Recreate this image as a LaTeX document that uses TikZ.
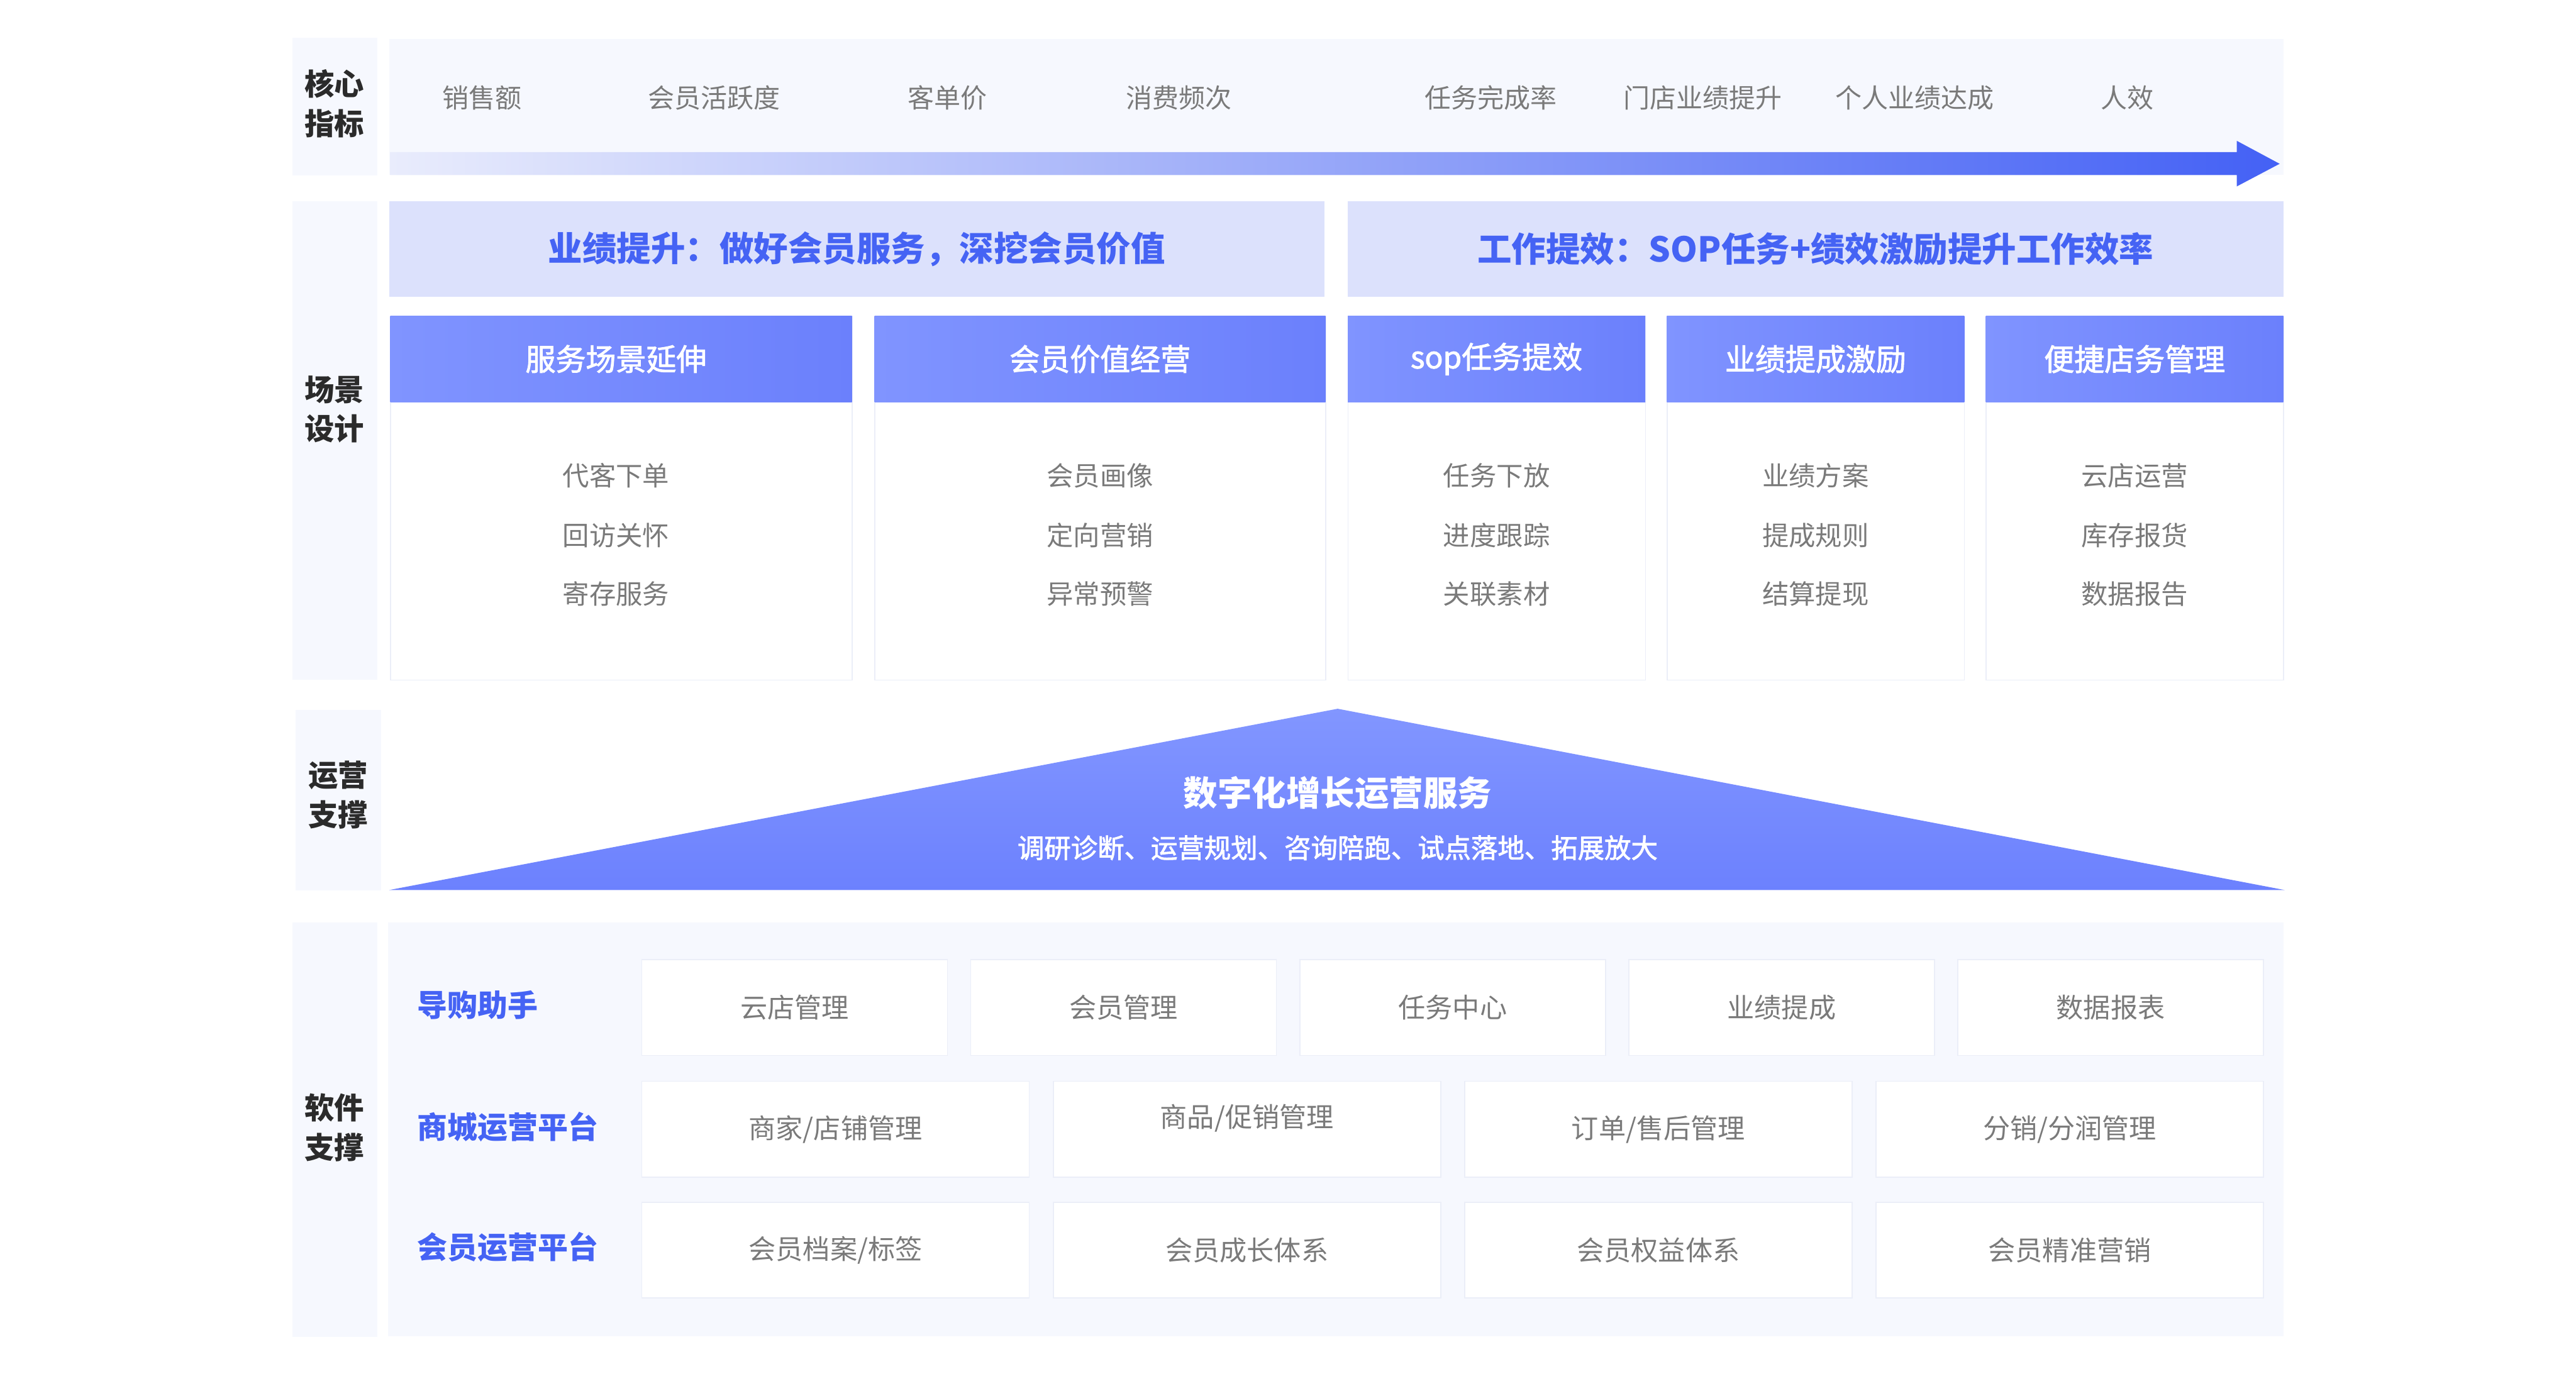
\documentclass[tikz,border=0pt]{standalone}
\usepackage{fontspec}
\usetikzlibrary{positioning}
\newfontfamily\cjk{Noto Sans CJK SC}
\newfontfamily\cjkmid[FakeBold=2]{Noto Sans CJK SC}
\definecolor{panelBg}{HTML}{F6F8FE}
\definecolor{bandBg}{HTML}{DCE1FC}
\definecolor{brandBlue}{HTML}{4563F4}
\definecolor{headL}{HTML}{8094FF}
\definecolor{headR}{HTML}{6B80FC}
\definecolor{triTop}{HTML}{8296FF}
\definecolor{triBot}{HTML}{6C81FE}
\definecolor{textGray}{HTML}{7A7A7A}
\definecolor{textDark}{HTML}{2B2B2B}
\definecolor{lineGray}{HTML}{EBEEF8}
\definecolor{arrowL}{HTML}{E9ECFC}
\definecolor{arrowM}{HTML}{A9B6FB}
\definecolor{arrowR}{HTML}{4461F5}

\begin{document}
\begin{tikzpicture}[
    node distance=0.68cm,
    panel/.style={rectangle, fill=panelBg, inner sep=0pt, anchor=north west},
    sidelabel/.style={align=center, inner sep=0pt, text=textDark,
                 font=\cjk\bfseries\fontsize{24.7pt}{32.7pt}\selectfont},
    metric/.style={inner sep=0pt, text=textGray, font=\cjk\fontsize{21.9pt}{26pt}\selectfont},
    band/.style={rectangle, fill=bandBg, inner sep=0pt, anchor=north west,
                 minimum width=27.24cm, minimum height=2.78cm, text=brandBlue,
                 font=\cjk\bfseries\fontsize{28.4pt}{34pt}\selectfont},
    colbody/.style={rectangle, draw=lineGray, line width=0.8pt, fill=white,
                 anchor=north west, minimum height=10.59cm, inner sep=0pt},
    colhead/.style={rectangle, left color=headL, right color=headR, anchor=north west,
                 minimum height=2.50cm, inner sep=0pt, text=white,
                 font=\cjkmid\fontsize{25pt}{30pt}\selectfont},
    item/.style={inner sep=0pt, text=textGray, font=\cjk\fontsize{22.1pt}{26pt}\selectfont},
    tritext/.style={inner sep=0pt, text=white, font=\cjk\bfseries\fontsize{28.4pt}{34pt}\selectfont},
    trisub/.style={inner sep=0pt, text=white, font=\cjkmid\fontsize{22.1pt}{26pt}\selectfont},
    rowlabel/.style={anchor=west, inner sep=0pt, text=brandBlue,
                 font=\cjk\bfseries\fontsize{25pt}{30pt}\selectfont},
    modbox/.style={rectangle, draw=lineGray, line width=0.8pt, fill=white,
                 minimum height=2.79cm, inner sep=0pt, outer sep=0pt, text=textGray,
                 font=\cjk\fontsize{22.5pt}{26pt}\selectfont},
  ]
    \useasboundingbox[fill=white] (0,0) rectangle (75.01,-40.01);

    % core indicators
    \node[panel, minimum width=2.48cm, minimum height=4.00cm] (p1) at (8.50,-1.10) {};
    \node[sidelabel] (l1) at (9.74,-3.01) {核心\\指标};
    \node[panel, minimum width=55.16cm, minimum height=3.97cm] (kpi) at (11.32,-1.12) {};
    \shade[left color=arrowL, middle color=arrowM, right color=arrowR]
      (11.36,-4.43) -- (65.13,-4.43) -- (65.13,-4.10) -- (66.38,-4.77)
      -- (65.13,-5.43) -- (65.13,-5.10) -- (11.36,-5.10) -- cycle;
    \node[metric] (m1) at (14.04,-2.85) {销售额};
    \node[metric] (m2) at (20.80,-2.85) {会员活跃度};
    \node[metric] (m3) at (27.58,-2.85) {客单价};
    \node[metric] (m4) at (34.32,-2.85) {消费频次};
    \node[metric] (m5) at (43.41,-2.85) {任务完成率};
    \node[metric] (m6) at (49.58,-2.85) {门店业绩提升};
    \node[metric] (m7) at (55.75,-2.85) {个人业绩达成};
    \node[metric] (m8) at (61.94,-2.85) {人效};

    % scene design
    \node[panel, minimum width=2.48cm, minimum height=13.94cm] (p2) at (8.50,-5.85) {};
    \node[sidelabel] (l2) at (9.74,-11.92) {场景\\设计};
    \node[band] (gL) at (11.32,-5.85) {业绩提升：做好会员服务，深挖会员价值};
    \node[band] (gR) at (39.24,-5.85) {工作提效：SOP任务+绩效激励提升工作效率};

    \node[colbody, minimum width=13.44cm] (b1) at (11.36,-9.20) {};
    \node[colbody, minimum width=13.13cm] (b2) at (25.46,-9.20) {};
    \node[colbody, minimum width=8.66cm] (b3) at (39.24,-9.20) {};
    \node[colbody, minimum width=8.66cm] (b4) at (48.53,-9.20) {};
    \node[colbody, minimum width=8.66cm] (b5) at (57.82,-9.20) {};
    \node[colhead, minimum width=13.44cm] (h1) at (11.36,-9.20) {服务场景延伸\hspace*{0.3cm}};
    \node[colhead, minimum width=13.13cm] (h2) at (25.46,-9.20) {会员价值经营};
    \node[colhead, minimum width=8.66cm] (h3) at (39.24,-9.20) {sop任务提效};
    \node[colhead, minimum width=8.66cm] (h4) at (48.53,-9.20) {业绩提成激励};
    \node[colhead, minimum width=8.66cm] (h5) at (57.82,-9.20) {便捷店务管理};

    \node[item, xshift=-0.15cm] (i11) at (h1.south |- 0,-13.85) {代客下单};
    \node[item, xshift=-0.15cm] (i12) at (h1.south |- 0,-15.59) {回访关怀};
    \node[item, xshift=-0.15cm] (i13) at (h1.south |- 0,-17.29) {寄存服务};
    \node[item] (i21) at (h2.south |- 0,-13.85) {会员画像};
    \node[item] (i22) at (h2.south |- 0,-15.59) {定向营销};
    \node[item] (i23) at (h2.south |- 0,-17.29) {异常预警};
    \node[item] (i31) at (h3.south |- 0,-13.85) {任务下放};
    \node[item] (i32) at (h3.south |- 0,-15.59) {进度跟踪};
    \node[item] (i33) at (h3.south |- 0,-17.29) {关联素材};
    \node[item] (i41) at (h4.south |- 0,-13.85) {业绩方案};
    \node[item] (i42) at (h4.south |- 0,-15.59) {提成规则};
    \node[item] (i43) at (h4.south |- 0,-17.29) {结算提现};
    \node[item] (i51) at (h5.south |- 0,-13.85) {云店运营};
    \node[item] (i52) at (h5.south |- 0,-15.59) {库存报货};
    \node[item] (i53) at (h5.south |- 0,-17.29) {数据报告};

    % operation support
    \node[panel, minimum width=2.49cm, minimum height=5.25cm] (p3) at (8.60,-20.67) {};
    \node[sidelabel] (l3) at (9.85,-23.15) {运营\\支撑};
    \coordinate (tl) at (11.33,-25.92);
    \coordinate (tp) at (38.95,-20.64);
    \coordinate (tr) at (66.53,-25.92);
    \shade[top color=triTop, bottom color=triBot] (tl) -- (tp) -- (tr) -- cycle;
    \node[tritext] (opsT) at (38.95,-23.09) {数字化增长运营服务};
    \node[trisub] (opsS) at (38.95,-24.69) {调研诊断、运营规划、咨询陪跑、试点落地、拓展放大};

    % software support
    \node[panel, minimum width=2.48cm, minimum height=12.07cm] (p4) at (8.50,-26.85) {};
    \node[sidelabel] (l4) at (9.74,-32.83) {软件\\支撑};
    \node[panel, minimum width=55.18cm, minimum height=12.05cm] (soft) at (11.30,-26.85) {};

    \node[rowlabel] (r1) at (12.14,-29.27) {导购助手};
    \node[rowlabel] (r2) at (12.14,-32.82) {商城运营平台};
    \node[rowlabel] (r3) at (12.14,-36.32) {会员运营平台};

    \node[modbox, minimum width=8.90cm, anchor=north west] (a1) at (18.69,-27.95) {云店管理};
    \node[modbox, minimum width=8.90cm, right=of a1] (a2) {会员管理};
    \node[modbox, minimum width=8.90cm, right=of a2] (a3) {任务中心};
    \node[modbox, minimum width=8.90cm, right=of a3] (a4) {业绩提成};
    \node[modbox, minimum width=8.90cm, right=of a4] (a5) {数据报表};

    \node[modbox, minimum width=11.28cm, anchor=north west] (c1) at (18.69,-31.49) {商家/店铺管理};
    \node[modbox, minimum width=11.28cm, right=0.70cm of c1, text depth=0.8cm] (c2) {商品/促销管理};
    \node[modbox, minimum width=11.28cm, right=0.70cm of c2] (c3) {订单/售后管理};
    \node[modbox, minimum width=11.28cm, right=0.70cm of c3] (c4) {分销/分润管理};

    \node[modbox, minimum width=11.28cm, anchor=north west] (v1) at (18.69,-35.01) {会员档案/标签};
    \node[modbox, minimum width=11.28cm, right=0.70cm of v1] (v2) {会员成长体系};
    \node[modbox, minimum width=11.28cm, right=0.70cm of v2] (v3) {会员权益体系};
    \node[modbox, minimum width=11.28cm, right=0.70cm of v3] (v4) {会员精准营销};
  \end{tikzpicture}
\end{document}
